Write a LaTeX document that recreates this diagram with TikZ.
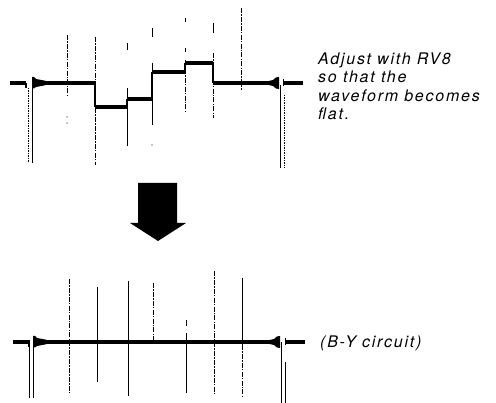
\documentclass[tikz,border=0pt]{standalone}
\usepackage{fontspec}
\setmainfont{TeX Gyre Heros}[LetterSpace=11]
\begin{document}
\begin{tikzpicture}[x=1pt,y=-1pt,
  trace/.style={line width=3.4pt,line cap=butt},
  plateau/.style={line width=4.4pt},
  riser/.style={line width=1.6pt},
  vline/.style={line width=0.8pt},
  dotline/.style={line width=0.8pt,dash pattern=on 5pt off 1.2pt on 1.5pt off 1.2pt},
  fineline/.style={line width=0.8pt,dash pattern=on 1.5pt off 1pt},
  label/.style={font=\fontsize{16}{18.5}\selectfont\itshape,align=left,inner sep=0pt,anchor=base west}]
\useasboundingbox (0,0) rectangle (496,403);
% ---------- top waveform ----------
\draw[trace] (10,83) -- (26,83);
\fill (25,83) rectangle (26.5,88);
\fill (32,77) -- (34,77) -- (36,79) -- (44,80.5) -- (48,81.6) -- (48,84.4) -- (44,85.5) -- (36,87) -- (34,88.5) -- (32,88.5) -- cycle;
\draw[trace] (32,83) -- (95,83);
\draw[plateau] (95,107) -- (127,107);
\draw[plateau] (127,99) -- (152,99);
\draw[plateau] (152,72) -- (185,72);
\draw[plateau] (185,63) -- (213,63);
\draw[trace] (213,83) -- (278,83);
\draw[riser] (95,83) -- (95,107);
\draw[riser] (127,107) -- (127,99);
\draw[riser] (152,99) -- (152,72);
\draw[riser] (185,72) -- (185,63);
\draw[riser] (213,63) -- (213,83);
\fill (266,81.6) -- (273,80) -- (276,77.5) -- (279,77) -- (279,89) -- (276,88.5) -- (273,86) -- (266,84.4) -- cycle;
\draw[trace] (283,83) -- (303,83);
\fill (282.5,79.5) rectangle (284,86.5);
% verticals (top)
\draw[dotline] (67,35) -- (67,97);
\fill (67,117) circle (0.6pt) (67,123) circle (0.6pt);
\draw[dotline] (95,37) -- (95,165);
\draw[vline] (127,43) -- (127,50);
\draw[vline] (127,88) -- (127,146);
\draw[vline] (152,28) -- (152,37);
\draw[vline] (152,63) -- (152,125);
\fill (152,145) circle (0.6pt);
\draw[vline] (185,18) -- (185,22);
\draw[vline] (185,48) -- (185,52);
\draw[dotline] (185,60) -- (185,113);
\draw[vline] (213,23) -- (213,33);
\draw[dotline] (213,53) -- (213,118);
\draw[dotline] (241,8) -- (241,90);
\draw[fineline] (28,88) -- (28,163);
\draw[vline] (32,85) -- (32,163);
\draw[vline] (280,85) -- (280,168);
\draw[fineline] (284,95) -- (284,168);
% ---------- arrow ----------
\fill (138,183) -- (177,183) -- (177,223) -- (186,223) -- (158,241) -- (130,223) -- (138,223) -- cycle;
% ---------- bottom waveform ----------
\draw[trace] (13,342) -- (30,342);
\fill (28,342) rectangle (29.5,347);
\fill (33,336) -- (35,336) -- (37,338) -- (45,339.5) -- (49,340.6) -- (49,343.4) -- (45,344.5) -- (37,346) -- (35,347.5) -- (33,347.5) -- cycle;
\draw[trace] (34,342) -- (279,342);
\fill (267,340.6) -- (274,339) -- (277,336.5) -- (280,336) -- (280,348) -- (277,347.5) -- (274,345) -- (267,343.4) -- cycle;
\draw[trace] (285,342) -- (305,342);
\fill (284.5,338.5) rectangle (286,345.5);
% verticals (bottom)
\draw[dotline] (69,279) -- (69,393);
\draw[vline] (97,287) -- (97,382);
\draw[vline] (128,281) -- (128,396);
\draw[dotline] (153,283) -- (153,345);
\draw[vline] (186,320) -- (186,326);
\draw[vline] (186,333) -- (186,393);
\draw[dotline] (214,271) -- (214,395);
\draw[vline] (242,278) -- (242,345);
\draw[dotline] (242,345) -- (242,398);
\draw[vline] (29,342) -- (29,398);
\draw[vline] (33,342) -- (33,398);
\draw[vline] (281,342) -- (281,403);
\draw[vline] (285,362) -- (285,403);
% ---------- texts ----------
\node[label] (note) at (318,120) {Adjust with RV8\\so that the\\waveform becomes\\flat.};
\node[label] (circ) at (320,348) {(B-Y circuit)};
\end{tikzpicture}
\end{document}
